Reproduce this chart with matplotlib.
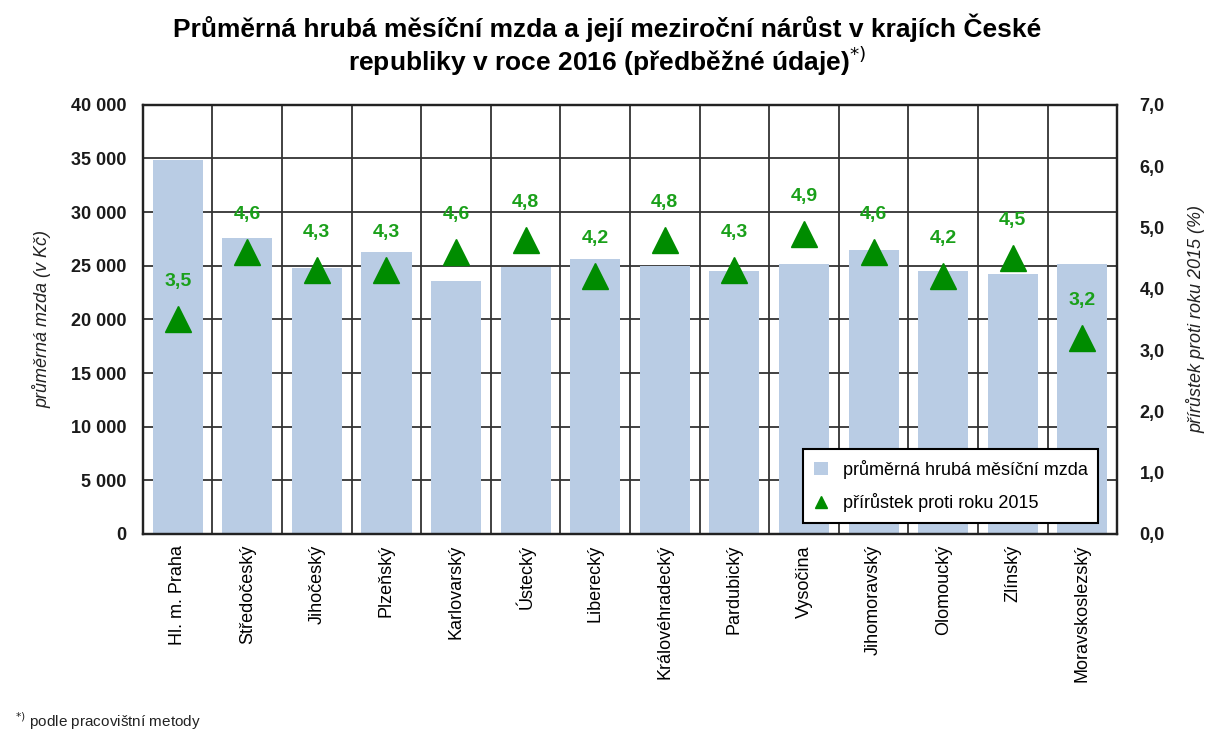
import numpy as np
import matplotlib.pyplot as plt
from matplotlib.ticker import FuncFormatter

# Data

regions = ['Hl. m. Praha', 'Středočeský', 'Jihočeský', 'Plzeňský', 'Karlovarský',
           'Ústecký', 'Liberecký', 'Královéhradecký', 'Pardubický', 'Vysočina',
           'Jihomoravský', 'Olomoucký', 'Zlínský', 'Moravskoslezský']
wage = [34900, 27600, 24800, 26300, 23600, 24900, 25600,
        25000, 24500, 25200, 26500, 24500, 24200, 25200]
growth = [3.5, 4.6, 4.3, 4.3, 4.6, 4.8, 4.2, 4.8, 4.3, 4.9, 4.6, 4.2, 4.5, 3.2]

plt.rcParams['font.family'] = ['Liberation Sans', 'DejaVu Sans']

fig = plt.figure(figsize=(12.21, 7.33), dpi=100)
ax = fig.add_axes([0.117, 0.2715, 0.798, 0.5855])
ax2 = ax.twinx()

x = np.arange(len(regions))

# bars + grid
ax.bar(x, wage, width=0.72, color='#b9cce4', zorder=2, label='průměrná hrubá měsíční mzda')
ax.set_ylim(0, 40000)
ax.set_xlim(-0.5, len(regions) - 0.5)
ax.set_yticks(np.arange(0, 40001, 5000))
ax.yaxis.set_major_formatter(FuncFormatter(lambda v, p: f'{int(v):,}'.replace(',', ' ')))
ax.grid(axis='y', color='#333333', linewidth=1.3, zorder=1)
for b in np.arange(0.5, len(regions) - 0.5, 1):
    ax.axvline(b, color='#333333', linewidth=1.3, zorder=1)
ax.set_xticks(x)
ax.set_xticklabels(regions, rotation=90, fontsize=13)
ax.tick_params(axis='x', length=0, pad=8)
ax.tick_params(axis='y', length=0, labelsize=13, pad=12, labelcolor='#1a1a1a')
for t in ax.get_yticklabels():
    t.set_fontweight('bold')
ax.set_ylabel('průměrná mzda (v Kč)', fontstyle='italic', fontsize=13, color='#222222', labelpad=14)

# triangles on the secondary axis
ax2.plot(x, growth, linestyle='none', marker='^', markersize=19, color='#008c00', zorder=4,
         label='přírůstek proti roku 2015')
ax2.set_ylim(0, 7)
ax2.set_yticks(np.arange(0, 7.01, 1))
ax2.yaxis.set_major_formatter(FuncFormatter(lambda v, p: f'{v:.1f}'.replace('.', ',')))
ax2.tick_params(axis='y', length=0, labelsize=13, pad=16, labelcolor='#1a1a1a')
for t in ax2.get_yticklabels():
    t.set_fontweight('bold')
ax2.set_ylabel('přírůstek proti roku 2015 (%)', fontstyle='italic', fontsize=13,
               color='#222222', labelpad=16)
for xi, g in zip(x, growth):
    ax2.annotate(f'{g:.1f}'.replace('.', ','), (xi, g), xytext=(0, 27), textcoords='offset points',
                 ha='center', va='center', fontsize=14, fontweight='bold', color='#1aa01a')

for a in (ax, ax2):
    for s in a.spines.values():
        s.set_linewidth(1.6)
        s.set_color('#222222')

ax.set_zorder(ax2.get_zorder() - 1)
ax.patch.set_visible(True)
ax2.patch.set_visible(False)

# legend
h1, l1 = ax.get_legend_handles_labels()
h2, l2 = ax2.get_legend_handles_labels()
leg = ax2.legend(h1 + h2, l1 + l2, loc='lower right', bbox_to_anchor=(0.99, 0.005),
                 fontsize=13, frameon=True, fancybox=False, edgecolor='black', framealpha=1,
                 handlelength=0.8, handletextpad=0.8, borderpad=0.6, labelspacing=0.8,
                 markerscale=0.42)
leg.get_frame().set_linewidth(1.5)
leg.set_zorder(10)

fig.suptitle('Průměrná hrubá měsíční mzda a její meziroční nárůst v krajích České\n'
             'republiky v roce 2016 (předběžné údaje)$^{*)}$',
             x=0.497, y=0.982, fontsize=19, fontweight='bold', linespacing=1.12)
fig.text(0.012, 0.008, '$^{*)}$ podle pracovištní metody', fontsize=11, color='#222222')

fig.savefig('out.png', dpi=100)
